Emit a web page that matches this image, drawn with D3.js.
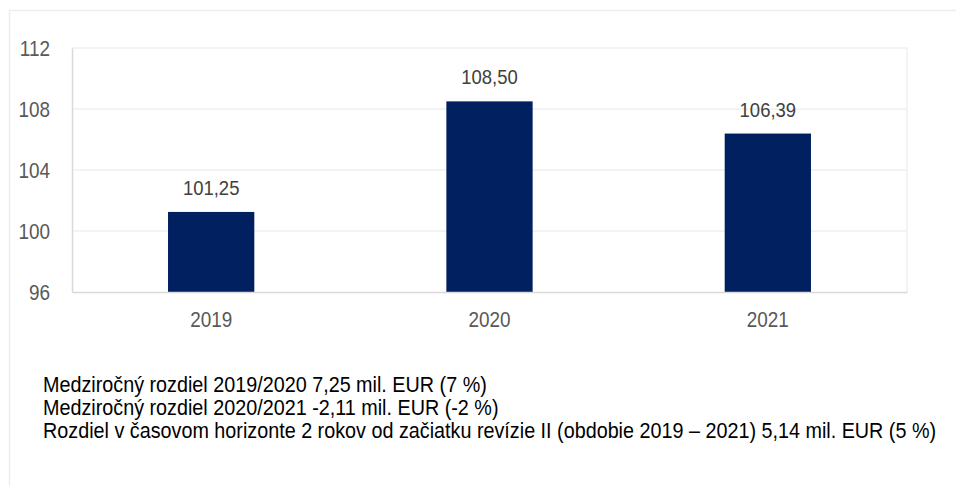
<!DOCTYPE html>
<html>
<head>
<meta charset="utf-8">
<script src="https://cdn.jsdelivr.net/npm/d3@7"></script>
<style>
  body { margin: 0; background: #fff; }
  svg text { font-family: "Liberation Sans", Arial, sans-serif; }
</style>
</head>
<body>
<div id="chart"></div>
<script>
// chart data
const years = ['2019', '2020', '2021'];
const values = [101.25, 108.50, 106.39];
const yTicks = [96, 100, 104, 108, 112];
const notes = [
  'Medziročný rozdiel 2019/2020 7,25 mil. EUR (7 %)',
  'Medziročný rozdiel 2020/2021 -2,11 mil. EUR (-2 %)',
  'Rozdiel v časovom horizonte 2 rokov od začiatku revízie II (obdobie 2019 – 2021) 5,14 mil. EUR (5 %)'
];

const W = 956, H = 486;
const dims = { top: 48, right: 49, bottom: 194, left: 72 };
dims.width = W - dims.left - dims.right;
dims.height = H - dims.top - dims.bottom;

const fmt = v => d3.format('.2f')(v).replace('.', ',');

// the original font is a narrow one, squeeze the text horizontally
function narrow(sel, k) {
  sel.each(function() {
    const t = d3.select(this);
    const tx = +t.attr('x') || 0, ty = +t.attr('y') || 0;
    const old = t.attr('transform') || '';
    t.attr('x', 0).attr('y', 0)
      .attr('transform', old + ' translate(' + tx + ',' + ty + ') scale(' + k + ',1)');
  });
}

const svg = d3.select('#chart').append('svg')
  .attr('width', W).attr('height', H);

// outer frame
svg.append('path')
  .attr('d', 'M9.5,' + H + 'V10.5H' + W)
  .attr('fill', 'none').attr('stroke', '#ededed').attr('stroke-width', 1.5);

const g = svg.append('g')
  .attr('transform', 'translate(' + dims.left + ',' + dims.top + ')');

const x = d3.scaleBand().domain(years).range([0, dims.width]).paddingInner(0.69).paddingOuter(0.345);
const y = d3.scaleLinear().domain([96, 112]).range([dims.height, 0]);

// gridlines
g.append('g')
  .selectAll('line').data(yTicks.slice(1)).join('line')
  .attr('x1', 0).attr('x2', dims.width)
  .attr('y1', d => y(d)).attr('y2', d => y(d))
  .attr('stroke', '#efefef').attr('stroke-width', 1.5);

// right border of plot area
g.append('line')
  .attr('x1', dims.width).attr('x2', dims.width)
  .attr('y1', 0).attr('y2', dims.height)
  .attr('stroke', '#efefef').attr('stroke-width', 1.5);

// bars
g.append('g')
  .selectAll('rect').data(values).join('rect')
  .attr('x', (d, i) => x(years[i]))
  .attr('y', d => y(d))
  .attr('width', x.bandwidth())
  .attr('height', d => y(96) - y(d))
  .attr('fill', '#002060');

// value labels
g.append('g')
  .selectAll('text').data(values).join('text')
  .attr('x', (d, i) => x(years[i]) + x.bandwidth() / 2)
  .attr('y', d => y(d) - 17)
  .attr('text-anchor', 'middle')
  .attr('fill', '#404040')
  .style('font-size', '21px')
  .text(d => fmt(d))
  .call(narrow, 0.88);

// y axis
const yAxis = g.append('g')
  .call(d3.axisLeft(y).tickValues(yTicks).tickSize(0).tickPadding(22));
yAxis.select('.domain').attr('stroke', '#d9d9d9').attr('stroke-width', 1.5);
yAxis.selectAll('text').attr('fill', '#595959').style('font-size', '22px').call(narrow, 0.86);

// x axis
const xAxis = g.append('g')
  .attr('transform', 'translate(0,' + dims.height + ')')
  .call(d3.axisBottom(x).tickSize(0).tickPadding(19));
xAxis.select('.domain').attr('stroke', '#d9d9d9').attr('stroke-width', 1.5);
xAxis.selectAll('text').attr('fill', '#595959').style('font-size', '22px').call(narrow, 0.86);

// notes under the chart
svg.append('g')
  .selectAll('text').data(notes).join('text')
  .attr('x', 43)
  .attr('y', (d, i) => 392 + i * 23)
  .attr('fill', '#000')
  .style('font-size', '21.5px')
  .text(d => d)
  .call(narrow, 0.92);
</script>
</body>
</html>
